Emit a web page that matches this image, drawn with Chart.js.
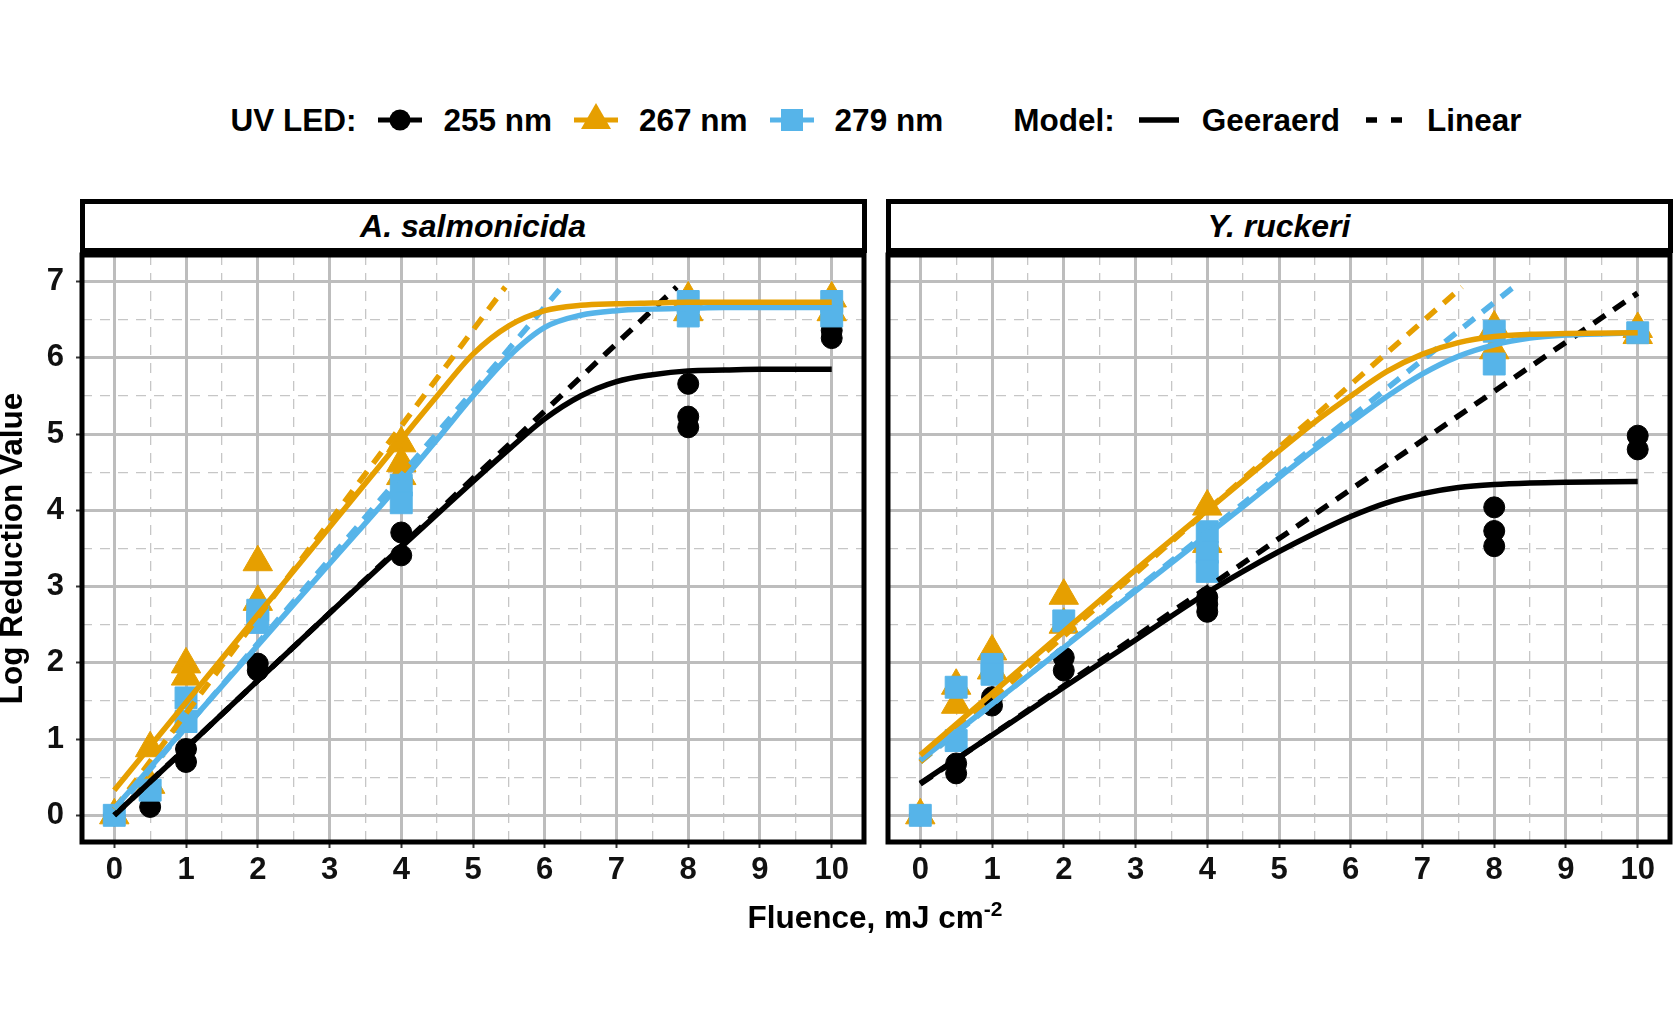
<!DOCTYPE html>
<html>
<head>
<meta charset="utf-8">
<script src="https://cdn.jsdelivr.net/npm/chart.js@4.4.0/dist/chart.umd.min.js"></script>
<style>
  body { margin: 0; width: 1674px; height: 1034px; background: #fff; position: relative; overflow: hidden;
         font-family: "Liberation Sans", Arial, sans-serif; font-weight: bold; color: #000; }
  canvas { position: absolute; }
  #legend { position: absolute; left: 0; top: 104px; width: 1752px; display: flex; justify-content: center;
            align-items: center; font-size: 31.5px; line-height: 32px; }
  #legend svg { overflow: visible; margin: 0 21px 0 22px; }
  #legend .gap { margin-left: 70px; }
  .strip { position: absolute; top: 199px; height: 54px; width: 787px; box-sizing: border-box; border: 5px solid #000;
           background: #fff; display: flex; align-items: center; justify-content: center; font-size: 32px; font-style: italic; }
  #xtitle { position: absolute; left: 0; top: 893px; width: 1750px; text-align: center; font-size: 31.5px; line-height: 32px; }
  #xtitle sup { font-size: 21px; }
</style>
</head>
<body>
<div id="legend">
  <span>UV LED:</span>
  <svg width="44" height="30"><line x1="0" y1="15" x2="44" y2="15" stroke="#000000" stroke-width="5"/><circle cx="22" cy="15" r="10.5" fill="#000000"/></svg>
  <span>255 nm</span>
  <svg width="44" height="30"><line x1="0" y1="15" x2="44" y2="15" stroke="#E69F00" stroke-width="5"/><polygon points="22,-2 37,24 7,24" fill="#E69F00"/></svg>
  <span>267 nm</span>
  <svg width="44" height="30"><line x1="0" y1="15" x2="44" y2="15" stroke="#56B4E9" stroke-width="5"/><rect x="11" y="4" width="22" height="22" fill="#56B4E9"/></svg>
  <span>279 nm</span>
  <span class="gap">Model:</span>
  <svg width="44" height="30"><line x1="2" y1="15" x2="42" y2="15" stroke="#000" stroke-width="5.5"/></svg>
  <span>Geeraerd</span>
  <svg width="44" height="30"><line x1="4" y1="15" x2="40" y2="15" stroke="#000" stroke-width="5.5" stroke-dasharray="11 14"/></svg>
  <span>Linear</span>
</div>

<canvas id="left" width="868" height="650" style="left:0;top:250px"></canvas>
<canvas id="right" width="802" height="650" style="left:872px;top:250px"></canvas>
<div class="strip" style="left:79.5px">A. salmonicida</div>
<div class="strip" style="left:885.5px">Y. ruckeri</div>
<div id="xtitle">Fluence, mJ cm<sup>-2</sup></div>

<script>
// axis ticks
const xTicks = [0, 1, 2, 3, 4, 5, 6, 7, 8, 9, 10];
const yTicks = [0, 1, 2, 3, 4, 5, 6, 7];
const xMinor = [0.5, 1.5, 2.5, 3.5, 4.5, 5.5, 6.5, 7.5, 8.5, 9.5];
const yMinor = [0.5, 1.5, 2.5, 3.5, 4.5, 5.5, 6.5];

const wavelengths = ["255 nm", "267 nm", "279 nm"];
const colors = ["#000000", "#E69F00", "#56B4E9"];
const shapes = ["circle", "triangle", "rect"];
const sizes = [10.5, 17, 15.5];

// A. salmonicida - measured log reductions
const salmX255 = [0, 0.5, 1, 1, 2, 2, 4, 4, 8, 8, 8, 10, 10];
const salmY255 = [0, 0.11, 0.87, 0.70, 1.99, 1.90, 3.71, 3.41, 5.66, 5.23, 5.09, 6.36, 6.26];
const salmX267 = [0, 0.5, 0.5, 1, 1, 2, 2, 4, 4, 4, 8, 8, 10, 10];
const salmY267 = [0, 0.88, 0.40, 1.98, 1.82, 3.32, 2.80, 4.88, 4.62, 4.45, 6.78, 6.60, 6.78, 6.60];
const salmX279 = [0, 0.5, 1, 1, 2, 2, 4, 4, 8, 8, 10, 10];
const salmY279 = [0, 0.33, 1.54, 1.23, 2.69, 2.53, 4.33, 4.10, 6.74, 6.55, 6.74, 6.55];

// Y. ruckeri - measured log reductions
const ruckX255 = [0, 0.5, 0.5, 1, 1, 2, 2, 4, 4, 4, 8, 8, 8, 10, 10];
const ruckY255 = [0, 0.68, 0.55, 1.55, 1.44, 2.07, 1.90, 2.86, 2.77, 2.67, 4.04, 3.73, 3.53, 4.98, 4.80];
const ruckX267 = [0, 0.5, 0.5, 1, 1, 2, 2, 4, 4, 8, 8, 10, 10];
const ruckY267 = [0, 1.70, 1.45, 2.15, 1.90, 2.88, 2.50, 4.05, 3.56, 6.40, 6.10, 6.38, 6.30];
const ruckX279 = [0, 0.5, 0.5, 1, 1, 2, 4, 4, 4, 8, 8, 10];
const ruckY279 = [0, 1.68, 0.98, 1.98, 1.85, 2.55, 3.72, 3.45, 3.20, 6.35, 5.92, 6.33];

// Geeraerd fits
const fitX = [0, 1, 2, 3, 4, 4.5, 5, 5.5, 6, 6.5, 7, 7.5, 8, 8.5, 9, 10];
const salmGeer255 = [0.00, 0.88, 1.77, 2.65, 3.52, 3.95, 4.38, 4.80, 5.20, 5.50, 5.69, 5.78, 5.83, 5.84, 5.85, 5.85];
const salmGeer267 = [0.33, 1.48, 2.63, 3.78, 4.93, 5.50, 6.05, 6.42, 6.62, 6.69, 6.71, 6.72, 6.73, 6.73, 6.73, 6.73];
const salmGeer279 = [0.09, 1.16, 2.23, 3.30, 4.37, 4.93, 5.50, 6.02, 6.40, 6.56, 6.62, 6.64, 6.65, 6.66, 6.66, 6.66];
const ruckGeer255 = [0.42, 1.05, 1.68, 2.30, 2.92, 3.20, 3.46, 3.70, 3.92, 4.10, 4.22, 4.30, 4.34, 4.36, 4.37, 4.38];
const ruckGeer267 = [0.79, 1.60, 2.41, 3.22, 4.00, 4.39, 4.78, 5.16, 5.50, 5.82, 6.05, 6.20, 6.28, 6.31, 6.32, 6.33];
const ruckGeer279 = [0.72, 1.46, 2.20, 2.94, 3.68, 4.05, 4.43, 4.80, 5.15, 5.49, 5.79, 6.02, 6.17, 6.26, 6.30, 6.33];

// Linear fits (start and end of each line)
const salmLinX255 = [0, 7.84], salmLinY255 = [0.00, 6.93];
const salmLinX267 = [0, 5.45], salmLinY267 = [0.08, 6.93];
const salmLinX279 = [0, 6.21], salmLinY279 = [0.05, 6.90];
const ruckLinX255 = [0, 10], ruckLinY255 = [0.41, 6.85];
const ruckLinX267 = [0, 7.55], ruckLinY267 = [0.70, 6.93];
const ruckLinX279 = [0, 8.27], ruckLinY279 = [0.70, 6.93];

const FONT = '"Liberation Sans", Arial, sans-serif';
Chart.defaults.font.family = FONT;

function pts(xs, ys) {
    return xs.map((x, i) => ({ x: x, y: ys[i] }));
}

function pointSet(xs, ys, k) {
    return {
        label: wavelengths[k],
        data: pts(xs, ys),
        showLine: false,
        pointStyle: shapes[k],
        pointRadius: sizes[k],
        backgroundColor: colors[k],
        borderColor: colors[k],
        pointBorderWidth: 1,
        order: 9 - k
    };
}

function lineSet(xs, ys, k, dashed, order) {
    return {
        data: pts(xs, ys),
        showLine: true,
        pointRadius: 0,
        borderColor: colors[k],
        borderWidth: 5.5,
        borderDash: dashed ? [14, 10] : [],
        cubicInterpolationMode: dashed ? "default" : "monotone",
        fill: false,
        order: order
    };
}

// thick black frame round the panel
const panelBorder = {
    id: "panelBorder",
    afterDatasetsDraw(chart) {
        const a = chart.chartArea;
        const ctx = chart.ctx;
        ctx.save();
        ctx.strokeStyle = "#000";
        ctx.lineWidth = 5;
        ctx.strokeRect(a.left, a.top, a.right - a.left, a.bottom - a.top);
        ctx.restore();
    }
};

// keep the plot area where it is: no extra room for label overhang
function noPad(s) {
    s.paddingTop = 0;
    s.paddingBottom = 0;
    s.paddingLeft = 0;
    s.paddingRight = 0;
}

function panelOptions(showY) {
    const tickFont = { family: FONT, size: 31, weight: "bold" };
    return {
        responsive: false,
        animation: false,
        events: [],
        layout: { autoPadding: false, padding: { top: 5, right: 4, bottom: 0, left: 0 } },
        plugins: { legend: { display: false }, tooltip: { enabled: false } },
        scales: {
            xMinor: {
                type: "linear", position: "top", min: -0.45, max: 10.45,
                afterBuildTicks: s => { s.ticks = xMinor.map(v => ({ value: v })); },
                afterFit: s => { s.height = 0; noPad(s); },
                ticks: { display: false },
                grid: { color: "#c6c6c6", lineWidth: 1.3, drawTicks: false, z: -1 },
                border: { display: false, dash: [10, 8] }
            },
            yMinor: {
                type: "linear", position: "right", min: -0.35, max: 7.35,
                afterBuildTicks: s => { s.ticks = yMinor.map(v => ({ value: v })); },
                afterFit: s => { s.width = 0; noPad(s); },
                ticks: { display: false },
                grid: { color: "#c6c6c6", lineWidth: 1.3, drawTicks: false, z: -1 },
                border: { display: false, dash: [10, 8] }
            },
            x: {
                type: "linear", position: "bottom", min: -0.45, max: 10.45,
                afterBuildTicks: s => { s.ticks = xTicks.map(v => ({ value: v })); },
                afterFit: s => { s.height = 58; noPad(s); },
                ticks: { font: tickFont, color: "#111", padding: 4, maxRotation: 0, autoSkip: false },
                grid: { color: "#bdbdbd", lineWidth: 3, tickColor: "#333", tickLength: 6, tickWidth: 2 },
                border: { display: false }
            },
            y: {
                type: "linear", position: "left", min: -0.35, max: 7.35,
                afterBuildTicks: s => { s.ticks = yTicks.map(v => ({ value: v })); },
                afterFit: s => { s.width = showY ? 82 : 16; noPad(s); },
                ticks: { display: showY, font: tickFont, color: "#111", padding: 12, autoSkip: false },
                grid: { color: "#bdbdbd", lineWidth: 3, drawTicks: showY, tickColor: "#333", tickLength: 6, tickWidth: 2 },
                border: { display: false },
                title: {
                    display: showY, text: "Log Reduction Value", color: "#000",
                    font: { family: FONT, size: 31.5, weight: "bold", lineHeight: 0.85 },
                    padding: 0
                }
            }
        }
    };
}

function makePanel(id, showY, datasets) {
    new Chart(document.getElementById(id), {
        type: "scatter",
        data: { datasets: datasets },
        options: panelOptions(showY),
        plugins: [panelBorder]
    });
}

makePanel("left", true, [
    pointSet(salmX255, salmY255, 0),
    pointSet(salmX267, salmY267, 1),
    pointSet(salmX279, salmY279, 2),
    lineSet(salmLinX255, salmLinY255, 0, true, 6),
    lineSet(salmLinX279, salmLinY279, 2, true, 5),
    lineSet(salmLinX267, salmLinY267, 1, true, 4),
    lineSet(fitX, salmGeer255, 0, false, 3),
    lineSet(fitX, salmGeer279, 2, false, 2),
    lineSet(fitX, salmGeer267, 1, false, 1)
]);

makePanel("right", false, [
    pointSet(ruckX255, ruckY255, 0),
    pointSet(ruckX267, ruckY267, 1),
    pointSet(ruckX279, ruckY279, 2),
    lineSet(ruckLinX255, ruckLinY255, 0, true, 6),
    lineSet(ruckLinX279, ruckLinY279, 2, true, 5),
    lineSet(ruckLinX267, ruckLinY267, 1, true, 4),
    lineSet(fitX, ruckGeer255, 0, false, 3),
    lineSet(fitX, ruckGeer279, 2, false, 2),
    lineSet(fitX, ruckGeer267, 1, false, 1)
]);
</script>
</body>
</html>
